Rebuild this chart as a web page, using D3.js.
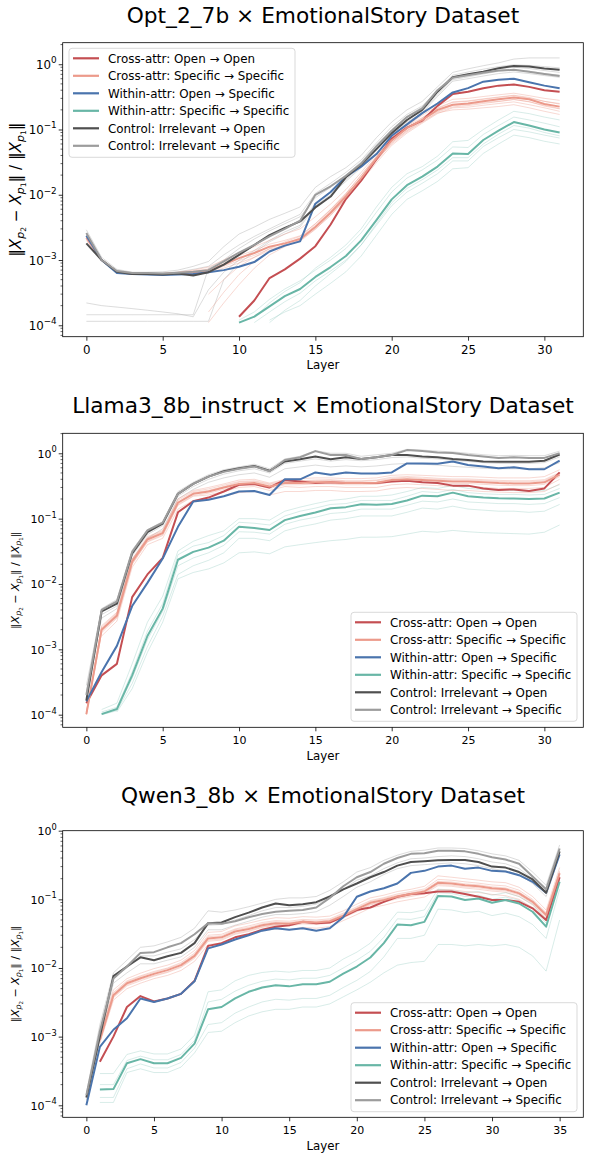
<!DOCTYPE html>
<html><head><meta charset="utf-8">
<script src="https://cdn.jsdelivr.net/npm/d3@7/dist/d3.min.js"></script>
<style>body{margin:0;background:#fff} text{font-family:"DejaVu Sans",sans-serif;fill:#000}</style>
</head><body><svg id="c" width="590" height="1161" xmlns="http://www.w3.org/2000/svg"></svg>
<script>
// ---------- categories / labels ----------
const seriesNames = ["Cross-attr: Open → Open","Cross-attr: Specific → Specific","Within-attr: Open → Specific","Within-attr: Specific → Specific","Control: Irrelevant → Open","Control: Irrelevant → Specific"];
const titles = ["Opt_2_7b × EmotionalStory Dataset","Llama3_8b_instruct × EmotionalStory Dataset","Qwen3_8b × EmotionalStory Dataset"];
const xTicksA = [0,5,10,15,20,25,30];
const xTicksB = [0,5,10,15,20,25,30,35];
const yTickExps = [-4,-3,-2,-1,0];

// ---------- Opt_2_7b (32 layers) ----------
const optCrossOpen = [null,null,null,null,null,null,null,null,null,null,1.35e-4,2.4e-4,5.3e-4,7.2e-4,1.05e-3,1.63e-3,3.5e-3,8.6e-3,1.65e-2,3.5e-2,7.2e-2,0.107,0.137,0.23,0.35,0.38,0.43,0.47,0.49,0.45,0.40,0.38];
const optCrossSpec = [2.2e-3,1.0e-3,6.6e-4,6.2e-4,6.1e-4,6.1e-4,6.3e-4,6.5e-4,6.9e-4,8.5e-4,1.07e-3,1.28e-3,1.6e-3,1.8e-3,2.1e-3,3.2e-3,5.3e-3,9.4e-3,1.8e-2,3.6e-2,6.8e-2,0.105,0.14,0.20,0.24,0.25,0.27,0.29,0.31,0.29,0.246,0.224];
const optWithinOpen = [2.35e-3,1.0e-3,6.3e-4,6.1e-4,6.0e-4,5.9e-4,6.0e-4,6.1e-4,6.5e-4,7.0e-4,7.9e-4,9.3e-4,1.35e-3,1.66e-3,1.93e-3,7.3e-3,1.1e-2,1.9e-2,2.7e-2,4.2e-2,8.0e-2,0.12,0.178,0.25,0.37,0.43,0.54,0.58,0.60,0.53,0.47,0.43];
const optWithinSpec = [null,null,null,null,null,null,null,null,null,null,1.1e-4,1.36e-4,1.95e-4,2.8e-4,3.6e-4,5.5e-4,7.8e-4,1.15e-3,2.0e-3,4.1e-3,8.5e-3,1.4e-2,1.9e-2,2.7e-2,4.3e-2,4.2e-2,6.9e-2,9.6e-2,0.13,0.115,0.10,0.09];
const optCtrlOpen = [1.8e-3,1.0e-3,6.6e-4,6.1e-4,6.1e-4,6.0e-4,6.2e-4,5.8e-4,6.5e-4,8.5e-4,1.2e-3,1.7e-3,2.4e-3,3.1e-3,3.9e-3,6.4e-3,9.4e-3,1.85e-2,2.9e-2,5.0e-2,8.8e-2,0.14,0.2,0.38,0.63,0.70,0.77,0.87,0.94,0.92,0.86,0.82];
const optCtrlSpec = [2.6e-3,1.0e-3,6.8e-4,6.3e-4,6.3e-4,6.2e-4,6.4e-4,6.6e-4,7.0e-4,9.5e-4,1.3e-3,1.7e-3,2.3e-3,3.0e-3,4.0e-3,1.0e-2,1.35e-2,1.95e-2,3.0e-2,5.5e-2,9.6e-2,0.155,0.21,0.40,0.62,0.68,0.74,0.80,0.82,0.77,0.71,0.66];

// faint individual runs (Opt)
const optFaintGray1 = [2.9e-3,1.1e-3,7.2e-4,6.5e-4,6.5e-4,6.6e-4,7.0e-4,8.0e-4,9.5e-4,1.6e-3,2.5e-3,3.2e-3,4.2e-3,5.2e-3,6.5e-3,1.3e-2,1.9e-2,2.6e-2,4.0e-2,7.5e-2,0.13,0.2,0.27,0.45,0.75,0.85,0.95,1.05,1.2,1.25,1.25,1.25];
const optFaintGray2 = [2.4e-3,1.0e-3,6.9e-4,6.3e-4,6.3e-4,6.3e-4,6.6e-4,7.2e-4,8.0e-4,1.2e-3,1.7e-3,2.3e-3,3.0e-3,3.9e-3,5.0e-3,1.05e-2,1.5e-2,2.2e-2,3.4e-2,6.2e-2,0.11,0.17,0.23,0.40,0.68,0.76,0.84,0.92,0.98,0.96,0.92,0.88];
const optFaintGray3 = [2.2e-4,2.0e-4,1.9e-4,1.8e-4,1.7e-4,1.6e-4,1.5e-4,1.35e-4,3.5e-4,6.5e-4,1.0e-3,1.4e-3,2.0e-3,2.7e-3,3.4e-3,7.5e-3,1.1e-2,1.7e-2,2.7e-2,5.0e-2,9.0e-2,0.14,0.19,0.34,0.58,0.64,0.71,0.78,0.82,0.78,0.72,0.68];
const optFaintGray4 = [1.45e-4,1.45e-4,1.45e-4,1.45e-4,1.45e-4,1.45e-4,1.45e-4,1.45e-4,7.5e-4,1.0e-3,1.5e-3,2.1e-3,2.8e-3,3.6e-3,4.6e-3,9.0e-3,1.3e-2,2.0e-2,3.2e-2,5.8e-2,0.10,0.16,0.22,0.38,0.64,0.70,0.78,0.86,0.90,0.86,0.80,0.75];
const optFaintGray5 = [1.15e-4,1.15e-4,1.15e-4,1.15e-4,1.15e-4,1.15e-4,1.15e-4,1.15e-4,1.15e-4,5.0e-4,9.0e-4,1.3e-3,1.9e-3,2.5e-3,3.2e-3,6.8e-3,1.0e-2,1.6e-2,2.6e-2,4.8e-2,8.5e-2,0.13,0.18,0.32,0.55,0.60,0.66,0.72,0.76,0.72,0.67,0.63];
const optFaintSalmon1 = [2.4e-3,1.0e-3,6.8e-4,6.3e-4,6.2e-4,6.2e-4,6.5e-4,7.0e-4,7.8e-4,1.0e-3,1.3e-3,1.6e-3,2.0e-3,2.5e-3,3.0e-3,4.6e-3,7.2e-3,1.2e-2,2.2e-2,4.2e-2,7.6e-2,0.115,0.165,0.23,0.29,0.30,0.32,0.34,0.36,0.33,0.30,0.28];
const optFaintSalmon2 = [2.0e-3,1.0e-3,6.5e-4,6.1e-4,6.0e-4,6.0e-4,6.1e-4,6.2e-4,6.4e-4,7.5e-4,9.0e-4,1.1e-3,1.4e-3,1.7e-3,2.0e-3,3.0e-3,4.8e-3,8.6e-3,1.6e-2,3.1e-2,5.7e-2,0.088,0.125,0.175,0.215,0.22,0.235,0.25,0.265,0.24,0.215,0.19];
const optFaintSalmon3 = [null,null,null,null,null,null,null,null,1.1e-4,2.2e-4,4.2e-4,7.5e-4,1.2e-3,1.6e-3,2.0e-3,3.2e-3,5.5e-3,1.0e-2,1.8e-2,3.4e-2,6.3e-2,0.095,0.14,0.19,0.235,0.24,0.26,0.27,0.29,0.265,0.235,0.21];
const optFaintSalmon4 = [null,null,null,null,null,null,null,null,3.0e-4,5.0e-4,8.0e-4,1.1e-3,1.5e-3,1.9e-3,2.3e-3,3.6e-3,6.0e-3,1.05e-2,2.0e-2,3.8e-2,7.0e-2,0.105,0.15,0.21,0.26,0.27,0.29,0.31,0.33,0.30,0.27,0.25];
const optFaintSalmon5 = [null,null,null,null,null,null,null,null,1.6e-4,3.2e-4,6.0e-4,9.5e-4,1.35e-3,1.75e-3,2.2e-3,3.4e-3,5.8e-3,1.0e-2,1.8e-2,3.4e-2,6.0e-2,0.092,0.13,0.18,0.20,0.205,0.215,0.225,0.24,0.215,0.19,0.17];
const optFaintSalmon6 = [2.3e-3,1.0e-3,6.7e-4,6.2e-4,6.1e-4,6.1e-4,6.4e-4,6.8e-4,7.3e-4,9.2e-4,1.17e-3,1.4e-3,1.75e-3,2.0e-3,2.35e-3,3.6e-3,5.9e-3,1.04e-2,2.0e-2,3.9e-2,7.4e-2,0.113,0.152,0.215,0.265,0.275,0.295,0.315,0.335,0.31,0.27,0.245];
const optFaintSalmon7 = [2.1e-3,1.0e-3,6.5e-4,6.1e-4,6.0e-4,6.0e-4,6.2e-4,6.3e-4,6.6e-4,8.0e-4,9.8e-4,1.18e-3,1.48e-3,1.66e-3,1.94e-3,2.95e-3,4.9e-3,8.7e-3,1.66e-2,3.3e-2,6.3e-2,0.097,0.13,0.185,0.222,0.232,0.25,0.268,0.287,0.268,0.228,0.207];
const optFaintTeal1 = [null,null,null,null,null,null,null,null,null,null,null,1.3e-4,2.2e-4,3.3e-4,4.5e-4,7.5e-4,1.1e-3,1.7e-3,3.0e-3,6.5e-3,1.3e-2,2.1e-2,2.7e-2,3.9e-2,6.5e-2,6.8e-2,0.10,0.14,0.19,0.175,0.155,0.14];
const optFaintTeal2 = [null,null,null,null,null,null,null,null,null,null,null,1.1e-4,1.6e-4,2.3e-4,3.1e-4,4.8e-4,6.8e-4,1.0e-3,1.7e-3,3.4e-3,6.8e-3,1.1e-2,1.5e-2,2.1e-2,3.3e-2,3.3e-2,5.5e-2,7.5e-2,0.10,0.092,0.082,0.074];
const optFaintTeal3 = [null,null,null,null,null,null,null,null,null,null,null,null,1.1e-4,1.7e-4,2.4e-4,4.0e-4,6.2e-4,9.5e-4,1.7e-3,3.6e-3,7.5e-3,1.25e-2,1.7e-2,2.4e-2,3.7e-2,3.7e-2,6.0e-2,8.5e-2,0.115,0.105,0.09,0.08];
const optFaintTeal4 = [null,null,null,null,null,null,null,null,null,null,null,null,1.2e-4,1.6e-4,2.0e-4,3.0e-4,4.4e-4,6.6e-4,1.15e-3,2.4e-3,5.0e-3,8.5e-3,1.15e-2,1.6e-2,2.5e-2,2.6e-2,4.3e-2,6.0e-2,8.2e-2,0.075,0.066,0.06];
const optFaintTeal5 = [null,null,null,null,null,null,null,null,null,null,1.2e-4,1.6e-4,2.5e-4,3.6e-4,4.8e-4,7.0e-4,1.0e-3,1.5e-3,2.6e-3,5.4e-3,1.1e-2,1.8e-2,2.4e-2,3.4e-2,5.4e-2,5.3e-2,8.4e-2,0.115,0.155,0.14,0.125,0.11];

// ---------- Llama3_8b_instruct (32 layers) ----------
const llamaCrossOpen = [1.5e-4,4.0e-4,6.0e-4,6.3e-3,1.4e-2,2.5e-2,0.125,0.185,0.21,0.26,0.33,0.34,0.30,0.39,0.37,0.35,0.36,0.35,0.35,0.35,0.37,0.38,0.36,0.35,0.32,0.32,0.29,0.275,0.28,0.265,0.29,0.51];
const llamaCrossSpec = [1.02e-4,2.0e-3,3.3e-3,2.2e-2,4.8e-2,6.0e-2,0.175,0.24,0.26,0.30,0.34,0.35,0.31,0.35,0.35,0.36,0.36,0.35,0.35,0.355,0.39,0.40,0.39,0.38,0.37,0.37,0.36,0.35,0.345,0.345,0.36,0.47];
const llamaWithinOpen = [1.6e-4,4.5e-4,1.13e-3,4.6e-3,1.04e-2,2.45e-2,7.5e-2,0.183,0.195,0.22,0.26,0.265,0.23,0.40,0.40,0.51,0.47,0.51,0.49,0.49,0.51,0.70,0.70,0.69,0.75,0.66,0.63,0.59,0.61,0.57,0.57,0.77];
const llamaWithinSpec = [null,1.02e-4,1.22e-4,4.0e-4,1.6e-3,4.2e-3,2.35e-2,3.1e-2,3.6e-2,4.6e-2,7.5e-2,7.2e-2,6.7e-2,9.5e-2,0.11,0.124,0.144,0.15,0.166,0.163,0.168,0.19,0.225,0.22,0.25,0.22,0.21,0.205,0.203,0.2,0.203,0.25];
const llamaCtrlOpen = [1.66e-4,3.8e-3,5.0e-3,2.95e-2,6.2e-2,8.4e-2,0.24,0.34,0.44,0.53,0.59,0.64,0.54,0.75,0.81,0.89,0.81,0.87,0.82,0.87,0.94,0.94,0.89,0.87,0.82,0.79,0.75,0.74,0.74,0.745,0.77,0.96];
const llamaCtrlSpec = [2.0e-4,4.0e-3,5.4e-3,3.1e-2,6.6e-2,8.7e-2,0.24,0.34,0.44,0.52,0.58,0.63,0.53,0.79,0.87,1.08,0.94,0.94,0.82,0.87,0.94,1.12,1.08,1.03,1.01,0.94,0.89,0.85,0.87,0.85,0.85,1.0];

const llamaFaintGray1 = [2.8e-4,4.2e-3,5.8e-3,3.3e-2,6.8e-2,9.0e-2,0.26,0.36,0.47,0.56,0.62,0.68,0.58,0.82,0.90,1.1,1.0,1.0,0.9,0.95,1.0,1.15,1.12,1.08,1.05,1.0,0.95,0.92,0.93,0.92,0.92,1.08];
const llamaFaintGray2 = [1.8e-4,3.4e-3,4.6e-3,2.7e-2,5.7e-2,7.8e-2,0.22,0.31,0.40,0.48,0.54,0.58,0.50,0.70,0.76,0.82,0.76,0.80,0.77,0.80,0.86,0.88,0.84,0.82,0.78,0.75,0.72,0.70,0.70,0.70,0.72,0.88];
const llamaFaintGray3 = [2.2e-4,3.0e-3,4.2e-3,2.4e-2,5.0e-2,7.0e-2,0.20,0.28,0.36,0.42,0.47,0.50,0.43,0.58,0.62,0.66,0.62,0.64,0.62,0.64,0.68,0.70,0.68,0.66,0.63,0.61,0.59,0.58,0.58,0.58,0.60,0.72];
const llamaFaintSalmon1 = [1.1e-4,2.3e-3,3.7e-3,2.4e-2,5.3e-2,6.6e-2,0.2,0.27,0.30,0.34,0.39,0.40,0.35,0.40,0.41,0.42,0.42,0.41,0.41,0.42,0.46,0.47,0.46,0.45,0.44,0.44,0.43,0.42,0.42,0.42,0.44,0.56];
const llamaFaintSalmon2 = [1.0e-4,1.8e-3,3.0e-3,2.0e-2,4.4e-2,5.5e-2,0.16,0.22,0.23,0.26,0.30,0.31,0.27,0.31,0.30,0.31,0.31,0.30,0.30,0.30,0.33,0.34,0.33,0.32,0.31,0.31,0.30,0.29,0.29,0.29,0.30,0.40];
const llamaFaintSalmon3 = [1.05e-4,2.1e-3,3.5e-3,2.3e-2,5.0e-2,6.2e-2,0.18,0.25,0.27,0.31,0.36,0.37,0.33,0.37,0.37,0.38,0.385,0.37,0.37,0.38,0.41,0.43,0.41,0.40,0.39,0.39,0.38,0.37,0.365,0.365,0.38,0.5];
const llamaFaintSalmon4 = [null,1.6e-3,2.7e-3,1.8e-2,4.0e-2,5.0e-2,0.14,0.19,0.20,0.22,0.25,0.26,0.23,0.26,0.26,0.27,0.27,0.26,0.26,0.265,0.29,0.30,0.29,0.28,0.27,0.27,0.26,0.255,0.25,0.25,0.26,0.34];
const llamaFaintSalmon5 = [1.05e-4,2.2e-3,3.6e-3,2.35e-2,5.1e-2,6.4e-2,0.19,0.26,0.285,0.325,0.37,0.38,0.34,0.38,0.38,0.39,0.395,0.38,0.38,0.39,0.43,0.44,0.43,0.415,0.405,0.405,0.395,0.385,0.38,0.38,0.395,0.51];
const llamaFaintSalmon6 = [1.0e-4,1.9e-3,3.1e-3,2.05e-2,4.5e-2,5.7e-2,0.165,0.225,0.245,0.28,0.32,0.33,0.29,0.33,0.33,0.34,0.34,0.33,0.33,0.335,0.365,0.375,0.365,0.355,0.345,0.345,0.335,0.325,0.32,0.32,0.335,0.44];
const llamaFaintTeal1 = [null,1.2e-4,1.5e-4,6.0e-4,2.6e-3,6.5e-3,3.2e-2,4.5e-2,5.5e-2,6.5e-2,0.1,0.1,0.095,0.13,0.15,0.17,0.19,0.2,0.22,0.22,0.23,0.26,0.3,0.29,0.32,0.29,0.28,0.27,0.27,0.26,0.27,0.33];
const llamaFaintTeal2 = [null,1.1e-4,1.3e-4,4.5e-4,1.9e-3,5.0e-3,2.8e-2,3.8e-2,4.3e-2,5.5e-2,8.8e-2,8.5e-2,8.0e-2,0.11,0.13,0.145,0.165,0.17,0.19,0.19,0.19,0.22,0.26,0.25,0.28,0.25,0.24,0.235,0.235,0.23,0.235,0.29];
const llamaFaintTeal3 = [null,1.0e-4,1.15e-4,3.0e-4,1.1e-3,3.2e-3,1.4e-2,1.9e-2,2.3e-2,3.0e-2,5.0e-2,5.0e-2,4.6e-2,6.5e-2,7.5e-2,8.3e-2,9.5e-2,0.1,0.11,0.11,0.11,0.125,0.145,0.14,0.155,0.14,0.135,0.13,0.13,0.125,0.13,0.165];
const llamaFaintTeal4 = [null,null,1.1e-4,2.5e-4,9.0e-4,2.6e-3,1.2e-2,1.5e-2,1.7e-2,2.1e-2,3.0e-2,3.1e-2,2.9e-2,3.7e-2,4.0e-2,4.3e-2,4.6e-2,4.8e-2,5.2e-2,5.2e-2,5.3e-2,5.8e-2,6.4e-2,6.2e-2,6.6e-2,6.3e-2,6.1e-2,6.0e-2,5.9e-2,5.8e-2,6.2e-2,8.0e-2];
const llamaFaintTeal5 = [null,1.05e-4,1.2e-4,3.6e-4,1.4e-3,3.8e-3,1.9e-2,2.5e-2,3.0e-2,3.9e-2,6.3e-2,6.2e-2,5.8e-2,8.2e-2,9.5e-2,0.105,0.12,0.125,0.14,0.14,0.14,0.16,0.185,0.18,0.2,0.18,0.175,0.17,0.17,0.165,0.17,0.21];

// ---------- Qwen3_8b (36 layers) ----------
const qwenCrossOpen = [null,4.3e-4,1.0e-3,2.7e-3,3.9e-3,3.25e-3,3.6e-3,4.2e-3,6.5e-3,2.1e-2,2.3e-2,2.8e-2,3.1e-2,3.6e-2,4.0e-2,4.2e-2,4.7e-2,4.5e-2,4.6e-2,5.6e-2,7.0e-2,7.6e-2,9.2e-2,0.109,0.12,0.123,0.13,0.13,0.12,0.109,0.098,0.098,0.092,0.074,0.05,0.21];
const qwenCrossSpec = [null,9.0e-4,4.0e-3,6.0e-3,7.1e-3,8.2e-3,9.3e-3,1.1e-2,1.5e-2,2.7e-2,2.8e-2,3.4e-2,3.7e-2,4.2e-2,4.5e-2,4.4e-2,4.7e-2,4.6e-2,4.8e-2,5.8e-2,7.2e-2,8.9e-2,9.8e-2,0.11,0.12,0.13,0.174,0.17,0.16,0.155,0.145,0.14,0.122,0.092,0.059,0.24];
const qwenWithinOpen = [1.0e-4,7.1e-4,1.26e-3,1.85e-3,3.6e-3,3.2e-3,3.6e-3,4.2e-3,6.4e-3,1.93e-2,2.2e-2,2.6e-2,3.0e-2,3.5e-2,3.8e-2,3.6e-2,3.8e-2,3.5e-2,3.8e-2,5.5e-2,0.109,0.13,0.145,0.17,0.243,0.26,0.30,0.31,0.28,0.29,0.26,0.255,0.225,0.18,0.125,0.45];
const qwenWithinSpec = [null,1.7e-4,1.72e-4,4.1e-4,4.7e-4,4.1e-4,4.1e-4,4.9e-4,7.9e-4,2.5e-3,2.7e-3,3.6e-3,4.5e-3,5.2e-3,5.6e-3,5.4e-3,5.8e-3,5.8e-3,6.3e-3,8.3e-3,1.05e-2,1.42e-2,2.3e-2,4.3e-2,4.2e-2,4.7e-2,0.112,0.11,0.098,0.103,0.089,0.098,0.087,0.066,0.04,0.18];
const qwenCtrlOpen = [1.3e-4,1.0e-3,7.6e-3,1.05e-2,1.43e-2,1.3e-2,1.48e-2,1.66e-2,2.3e-2,4.5e-2,4.6e-2,5.5e-2,6.4e-2,7.6e-2,8.7e-2,8.2e-2,8.5e-2,9.1e-2,0.11,0.14,0.17,0.21,0.25,0.31,0.35,0.36,0.37,0.375,0.375,0.35,0.30,0.29,0.25,0.195,0.125,0.50];
const qwenCtrlSpec = [1.4e-4,1.2e-3,7.0e-3,1.05e-2,1.66e-2,1.7e-2,2.0e-2,2.3e-2,3.1e-2,4.5e-2,4.4e-2,4.8e-2,5.5e-2,6.1e-2,6.6e-2,6.8e-2,7.0e-2,7.6e-2,0.105,0.155,0.21,0.25,0.33,0.40,0.46,0.47,0.51,0.51,0.50,0.46,0.41,0.38,0.33,0.215,0.14,0.55];

const qwenFaintGray1 = [1.5e-4,1.5e-3,8.5e-3,1.3e-2,2.0e-2,2.1e-2,2.4e-2,2.8e-2,3.8e-2,6.8e-2,6.5e-2,7.0e-2,7.8e-2,8.8e-2,0.1,0.105,0.105,0.11,0.135,0.18,0.25,0.29,0.37,0.44,0.5,0.52,0.56,0.56,0.55,0.51,0.46,0.43,0.37,0.25,0.16,0.62];
const qwenFaintGray2 = [1.3e-4,1.1e-3,7.2e-3,1.0e-2,1.5e-2,1.5e-2,1.7e-2,1.9e-2,2.6e-2,4.2e-2,4.3e-2,5.0e-2,5.8e-2,6.8e-2,7.6e-2,7.6e-2,7.9e-2,8.5e-2,0.105,0.14,0.19,0.22,0.28,0.34,0.39,0.40,0.42,0.43,0.42,0.39,0.35,0.33,0.28,0.2,0.13,0.52];
const qwenFaintGray3 = [1.2e-4,9.0e-4,6.0e-3,8.5e-3,1.15e-2,1.15e-2,1.3e-2,1.45e-2,2.0e-2,3.6e-2,3.6e-2,4.2e-2,4.8e-2,5.5e-2,6.0e-2,6.0e-2,6.2e-2,6.6e-2,8.2e-2,0.11,0.15,0.18,0.23,0.28,0.31,0.32,0.33,0.34,0.33,0.31,0.28,0.26,0.23,0.17,0.11,0.45];
const qwenFaintSalmon1 = [null,1.1e-3,4.8e-3,7.0e-3,8.4e-3,9.8e-3,1.1e-2,1.3e-2,1.8e-2,3.3e-2,3.4e-2,4.1e-2,4.5e-2,5.0e-2,5.4e-2,5.3e-2,5.6e-2,5.5e-2,5.7e-2,6.8e-2,8.5e-2,0.105,0.115,0.13,0.14,0.155,0.22,0.21,0.2,0.19,0.18,0.175,0.15,0.11,0.07,0.29];
const qwenFaintSalmon2 = [null,8.0e-4,3.4e-3,5.0e-3,6.0e-3,7.0e-3,7.8e-3,9.2e-3,1.25e-2,2.2e-2,2.3e-2,2.8e-2,3.0e-2,3.5e-2,3.7e-2,3.6e-2,3.9e-2,3.8e-2,4.0e-2,4.9e-2,6.0e-2,7.5e-2,8.2e-2,9.2e-2,0.1,0.108,0.14,0.138,0.13,0.126,0.118,0.113,0.1,0.076,0.048,0.2];
const qwenFaintSalmon3 = [null,9.5e-4,4.4e-3,6.5e-3,7.7e-3,8.9e-3,1.0e-2,1.2e-2,1.65e-2,3.0e-2,3.1e-2,3.7e-2,4.1e-2,4.6e-2,4.9e-2,4.8e-2,5.1e-2,5.0e-2,5.2e-2,6.3e-2,7.8e-2,9.6e-2,0.106,0.12,0.13,0.142,0.195,0.19,0.18,0.172,0.162,0.157,0.136,0.1,0.064,0.26];
const qwenFaintSalmon4 = [null,8.5e-4,3.7e-3,5.5e-3,6.5e-3,7.6e-3,8.6e-3,1.02e-2,1.38e-2,2.45e-2,2.55e-2,3.1e-2,3.4e-2,3.9e-2,4.2e-2,4.1e-2,4.4e-2,4.3e-2,4.5e-2,5.4e-2,6.6e-2,8.3e-2,9.1e-2,0.102,0.11,0.12,0.158,0.155,0.146,0.14,0.132,0.127,0.11,0.083,0.053,0.22];
const qwenFaintSalmon5 = [null,9.2e-4,4.2e-3,6.3e-3,7.5e-3,8.6e-3,9.8e-3,1.15e-2,1.58e-2,2.85e-2,2.95e-2,3.6e-2,3.9e-2,4.4e-2,4.7e-2,4.6e-2,4.9e-2,4.8e-2,5.0e-2,6.1e-2,7.5e-2,9.3e-2,0.103,0.115,0.125,0.136,0.183,0.179,0.168,0.163,0.152,0.147,0.128,0.096,0.062,0.25];
const qwenFaintSalmon6 = [null,8.7e-4,3.8e-3,5.7e-3,6.8e-3,7.8e-3,8.8e-3,1.05e-2,1.43e-2,2.55e-2,2.65e-2,3.2e-2,3.5e-2,4.0e-2,4.3e-2,4.2e-2,4.5e-2,4.4e-2,4.6e-2,5.5e-2,6.8e-2,8.5e-2,9.3e-2,0.105,0.114,0.124,0.165,0.161,0.152,0.147,0.138,0.133,0.116,0.087,0.056,0.23];
const qwenFaintTeal1 = [null,2.9e-4,2.9e-4,5.5e-4,6.2e-4,5.6e-4,5.6e-4,6.6e-4,1.05e-3,4.5e-3,4.8e-3,6.5e-3,7.8e-3,8.6e-3,9.0e-3,8.7e-3,9.2e-3,9.2e-3,1.0e-2,1.35e-2,1.7e-2,2.3e-2,3.7e-2,6.5e-2,6.4e-2,7.0e-2,0.14,0.135,0.125,0.13,0.115,0.125,0.11,0.085,0.05,0.2];
const qwenFaintTeal2 = [null,2.0e-4,2.0e-4,4.5e-4,5.2e-4,4.6e-4,4.6e-4,5.5e-4,8.8e-4,3.2e-3,3.5e-3,4.6e-3,5.6e-3,6.4e-3,6.9e-3,6.7e-3,7.1e-3,7.1e-3,7.8e-3,1.0e-2,1.3e-2,1.75e-2,2.8e-2,5.2e-2,5.1e-2,5.6e-2,0.125,0.122,0.11,0.115,0.1,0.108,0.097,0.074,0.045,0.19];
const qwenFaintTeal3 = [null,1.3e-4,1.3e-4,3.4e-4,4.0e-4,3.5e-4,3.5e-4,4.2e-4,6.8e-4,1.5e-3,1.6e-3,2.2e-3,2.7e-3,3.2e-3,3.5e-3,3.4e-3,3.6e-3,3.6e-3,4.0e-3,5.2e-3,6.6e-3,8.9e-3,1.45e-2,2.7e-2,2.7e-2,3.0e-2,7.2e-2,7.0e-2,6.4e-2,6.7e-2,5.8e-2,6.3e-2,5.6e-2,4.3e-2,2.7e-2,0.14];
const qwenFaintTeal4 = [null,1.1e-4,1.1e-4,3.0e-4,3.4e-4,3.0e-4,3.0e-4,3.6e-4,5.8e-4,1.15e-3,1.2e-3,1.6e-3,2.0e-3,2.3e-3,2.5e-3,2.5e-3,2.7e-3,2.7e-3,3.0e-3,3.8e-3,4.8e-3,6.2e-3,8.5e-3,1.1e-2,1.2e-2,1.25e-2,2.2e-2,2.2e-2,2.1e-2,2.2e-2,2.1e-2,2.2e-2,2.0e-2,1.5e-2,9.0e-3,5.0e-2];

// ---------- styling ----------
const boldColors = ["#c44e52","#ec9a8b","#4a74ad","#68b6a6","#4f4f4f","#9c9c9c"];
const faintColors = {gray:"#a8a8a8", salmon:"#ec9a8b", teal:"#8cc8bc"};

const panels = [
  {title:titles[0], titleY:23, top:42.7, bottom:336.7, yLog:[-4.175,0.33], xDom:[-1.55,32.55], xTicks:xTicksA, ylFont:15.2, ylX:20.5, tickFont:11.8,
   bold:[optCrossOpen,optCrossSpec,optWithinOpen,optWithinSpec,optCtrlOpen,optCtrlSpec],
   faint:{gray:[optFaintGray1,optFaintGray2,optFaintGray3,optFaintGray4,optFaintGray5], salmon:[optFaintSalmon1,optFaintSalmon2,optFaintSalmon3,optFaintSalmon4,optFaintSalmon5,optFaintSalmon6,optFaintSalmon7], teal:[optFaintTeal1,optFaintTeal2,optFaintTeal3,optFaintTeal4,optFaintTeal5]},
   legend:[69,48.3]},
  {title:titles[1], titleY:413, top:433.3, bottom:727.3, yLog:[-4.193,0.306], xDom:[-1.55,32.55], xTicks:xTicksA, ylFont:11, ylX:18.5, tickFont:11,
   bold:[llamaCrossOpen,llamaCrossSpec,llamaWithinOpen,llamaWithinSpec,llamaCtrlOpen,llamaCtrlSpec],
   faint:{gray:[llamaFaintGray1,llamaFaintGray2,llamaFaintGray3], salmon:[llamaFaintSalmon1,llamaFaintSalmon2,llamaFaintSalmon3,llamaFaintSalmon4,llamaFaintSalmon5,llamaFaintSalmon6], teal:[llamaFaintTeal1,llamaFaintTeal2,llamaFaintTeal3,llamaFaintTeal4,llamaFaintTeal5]},
   legend:[351,612.3]},
  {title:titles[2], titleY:803, top:830.7, bottom:1117.3, yLog:[-4.175,0], xDom:[-1.75,36.75], xTicks:xTicksB, ylFont:11, ylX:18.5, tickFont:11,
   bold:[qwenCrossOpen,qwenCrossSpec,qwenWithinOpen,qwenWithinSpec,qwenCtrlOpen,qwenCtrlSpec],
   faint:{gray:[qwenFaintGray1,qwenFaintGray2,qwenFaintGray3], salmon:[qwenFaintSalmon1,qwenFaintSalmon2,qwenFaintSalmon3,qwenFaintSalmon4,qwenFaintSalmon5,qwenFaintSalmon6], teal:[qwenFaintTeal1,qwenFaintTeal2,qwenFaintTeal3,qwenFaintTeal4]},
   legend:[351,1002.7]}
];

const L = 62.7, R = 583.3;
const svg = d3.select("#c");
svg.append("rect").attr("width",590).attr("height",1161).attr("fill","#fff");

panels.forEach((p,pi)=>{
  const g = svg.append("g");
  const x = d3.scaleLinear().domain(p.xDom).range([L,R]);
  const y = d3.scaleLog().domain([Math.pow(10,p.yLog[0]),Math.pow(10,p.yLog[1])]).range([p.bottom,p.top]);
  const clipId = "clip"+pi;
  svg.append("clipPath").attr("id",clipId).append("rect").attr("x",L).attr("y",p.top).attr("width",R-L).attr("height",p.bottom-p.top);

  const line = d3.line().defined(d=>d!=null).x((d,i)=>x(i)).y(d=>y(d));
  const plot = g.append("g").attr("clip-path",`url(#${clipId})`);

  // faint runs
  [["gray",0.45],["salmon",0.42],["teal",0.38]].forEach(([k,op])=>{
    p.faint[k].forEach(arr=>{
      plot.append("path").attr("d",line(arr)).attr("fill","none")
        .attr("stroke",faintColors[k]).attr("stroke-opacity",op).attr("stroke-width",0.9);
    });
  });
  // bold means
  p.bold.forEach((arr,si)=>{
    plot.append("path").attr("d",line(arr)).attr("fill","none")
      .attr("stroke",boldColors[si]).attr("stroke-width",2).attr("stroke-linejoin","round");
  });

  // frame
  g.append("rect").attr("x",L).attr("y",p.top).attr("width",R-L).attr("height",p.bottom-p.top)
    .attr("fill","none").attr("stroke","#000").attr("stroke-width",0.8);

  // x axis ticks
  const xa = g.append("g").attr("transform",`translate(0,${p.bottom})`)
    .call(d3.axisBottom(x).tickValues(p.xTicks).tickSize(4).tickPadding(4.5).tickFormat(d3.format("d")));
  xa.select(".domain").remove();
  xa.selectAll("line").attr("stroke","#000").attr("stroke-width",0.8);
  xa.selectAll("text").style("font-size",p.tickFont+"px").style("font-family","DejaVu Sans").attr("fill","#000");
  g.append("text").attr("x",(L+R)/2).attr("y",p.bottom+32.5).attr("text-anchor","middle").style("font-size","11.8px").text("Layer");

  // y axis: major ticks with superscript labels
  const majors = yTickExps.map(e=>Math.pow(10,e));
  const ya = g.append("g").attr("transform",`translate(${L},0)`)
    .call(d3.axisLeft(y).tickValues(majors).tickSize(4).tickFormat(""));
  ya.select(".domain").remove();
  ya.selectAll("line").attr("stroke","#000").attr("stroke-width",0.8);
  // minor ticks
  const minors = [];
  for (let e=-5;e<=0;e++) for (let m=2;m<=9;m++){ const v=m*Math.pow(10,e); const yy=y(v); if (yy>=p.top-0.1 && yy<=p.bottom+0.1) minors.push(v); }
  g.selectAll(null).data(minors).enter().append("line")
    .attr("x1",L-2.2).attr("x2",L).attr("y1",d=>y(d)).attr("y2",d=>y(d)).attr("stroke","#000").attr("stroke-width",0.6);
  yTickExps.forEach(e=>{
    const t = g.append("text").attr("x",L-6).attr("y",y(Math.pow(10,e))+4.5).attr("text-anchor","end").style("font-size",p.tickFont+"px");
    t.append("tspan").text("10");
    t.append("tspan").attr("dy",-5.5).style("font-size",(p.tickFont*0.75)+"px").text(e===0?"0":"−"+(-e));
  });

  // y label (mathtext-like)
  const cy = (p.top+p.bottom)/2;
  const f = p.ylFont, k = f/11;
  const yl = g.append("text").attr("transform",`translate(${p.ylX},${cy}) rotate(-90)`).attr("text-anchor","middle").style("font-size",f+"px");
  const parts = [["‖",0,1,false],["X",0,1,true],["p",2.5,0.72,true],["2",1.5,0.5,false],[" − ",-4,1,false],["X",0,1,true],["p",2.5,0.72,true],["1",1.5,0.5,false],["‖ / ‖",-4,1,false],["X",0,1,true],["p",2.5,0.72,true],["1",1.5,0.5,false],["‖",-4,1,false]];
  parts.forEach(([s,dy,fs,it])=>{
    yl.append("tspan").attr("dy",dy*k).style("font-size",(fs*f)+"px").style("font-style",it?"italic":"normal").text(s);
  });

  // title
  g.append("text").attr("x",(L+R)/2).attr("y",p.titleY).attr("text-anchor","middle").style("font-size","21.7px").text(p.title);

  // legend
  const [lx,ly] = p.legend;
  const lg = g.append("g");
  lg.append("rect").attr("x",lx).attr("y",ly).attr("width",226).attr("height",109).attr("rx",3)
    .attr("fill","#fff").attr("fill-opacity",0.85).attr("stroke","#cfcfcf").attr("stroke-width",0.8);
  seriesNames.forEach((n,i)=>{
    const yy = ly+10+i*17.5;
    lg.append("line").attr("x1",lx+4).attr("x2",lx+30).attr("y1",yy).attr("y2",yy).attr("stroke",boldColors[i]).attr("stroke-width",2.2);
    lg.append("text").attr("x",lx+39).attr("y",yy+4.2).style("font-size","11.9px").text(n);
  });
});
</script></body></html>
